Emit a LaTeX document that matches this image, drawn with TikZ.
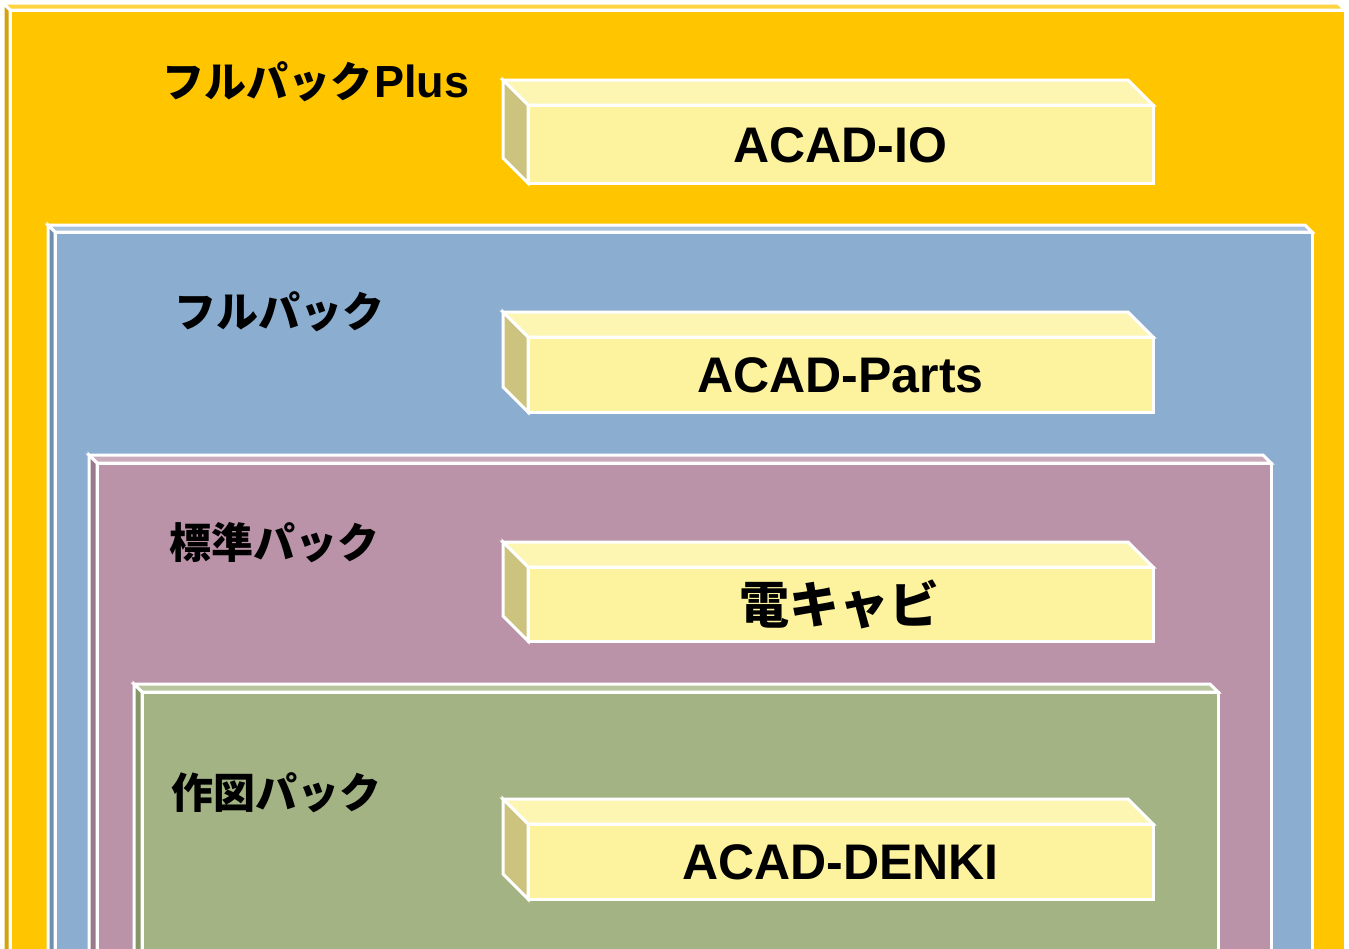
\documentclass[tikz,border=0pt]{standalone}
\usepackage{fontspec}
\setmainfont{Liberation Sans}
\newfontfamily\jpfont{Noto Sans CJK JP}
\usetikzlibrary{positioning}
% pack colours: front / top / side faces
\definecolor{plus-front}{HTML}{FFC600}
\definecolor{plus-top}{HTML}{FFD440}
\definecolor{plus-side}{HTML}{D2A30C}
\definecolor{full-front}{HTML}{8BAED0}
\definecolor{full-top}{HTML}{A8C1DC}
\definecolor{full-side}{HTML}{7090AF}
\definecolor{std-front}{HTML}{BA93A8}
\definecolor{std-top}{HTML}{CAABBC}
\definecolor{std-side}{HTML}{9A7B8C}
\definecolor{draw-front}{HTML}{A3B384}
\definecolor{draw-top}{HTML}{B8C59E}
\definecolor{draw-side}{HTML}{879669}
\definecolor{prod-front}{HTML}{FDF29D}
\definecolor{prod-top}{HTML}{FDF5B2}
\definecolor{prod-side}{HTML}{CCC37E}

\tikzset{
  face/.style={draw=white, line width=3pt, line join=miter},
  packlabel/.style={anchor=west, inner sep=0pt,
    font=\bfseries\fontsize{42}{48}\selectfont},
  prodlabel/.style={inner sep=0pt,
    font=\bfseries\fontsize{50}{56}\selectfont},
}

% bevelled box: x1, y1, x2, y2, depth, colour prefix
\newcommand{\bevelbox}[6]{%
  \filldraw[face, fill=#6-top]
    (#1,#2) -- (#3-#5,#2) -- (#3,#2+#5) -- (#1+#5,#2+#5) -- cycle;
  \filldraw[face, fill=#6-side]
    (#1,#2) -- (#1+#5,#2+#5) -- (#1+#5,#4) -- (#1,#4-#5) -- cycle;
  \filldraw[face, fill=#6-front] (#1+#5,#2+#5) rectangle (#3,#4);
}

\begin{document}
\begin{tikzpicture}[x=1pt, y=-1pt]

  %% -- Canvas ---------------------------------------------------
  \useasboundingbox (0,0) rectangle (1349,948);
  \clip (0,0) rectangle (1349,948);
  \fill[white] (0,0) rectangle (1349,948);

  %% -- Nested packs ---------------------------------------------
  \foreach \xa/\ya/\xb/\d/\col in {%
    3/3/1345/7/plus,
    48/225/1312/7/full,
    89/455/1271/8/std,
    134/684/1218/8/draw%
  }{
    \bevelbox{\xa}{\ya}{\xb}{960}{\d}{\col}
  }

  %% -- Product blocks -------------------------------------------
  \foreach \ya/\yb in {80/183, 312/412, 542/641, 799/899}{
    \bevelbox{503}{\ya}{1153}{\yb}{25}{prod}
  }

  %% -- Pack labels ----------------------------------------------
  \node[packlabel] (lblplus) at (162,82)
    {{\jpfont フルパック}\kern2pt{\fontsize{45}{50}\selectfont Plus}};
  \node[packlabel] (lblfull) at (174,312) {\jpfont フルパック};
  \node[packlabel] (lblstd)  at (169,543) {\jpfont 標準パック};
  \node[packlabel] (lbldraw) at (171,793) {\jpfont 作図パック};

  %% -- Product labels -------------------------------------------
  \node[prodlabel] (acadio)    at (840.5,145) {ACAD-IO};
  \node[prodlabel] (acadparts) at (840.5,375) {ACAD-Parts};
  \node[prodlabel] (denkicab)  at (839,604) {\jpfont 電キャビ};
  \node[prodlabel] (acaddenki) at (840.5,862) {ACAD-DENKI};

\end{tikzpicture}
\end{document}
